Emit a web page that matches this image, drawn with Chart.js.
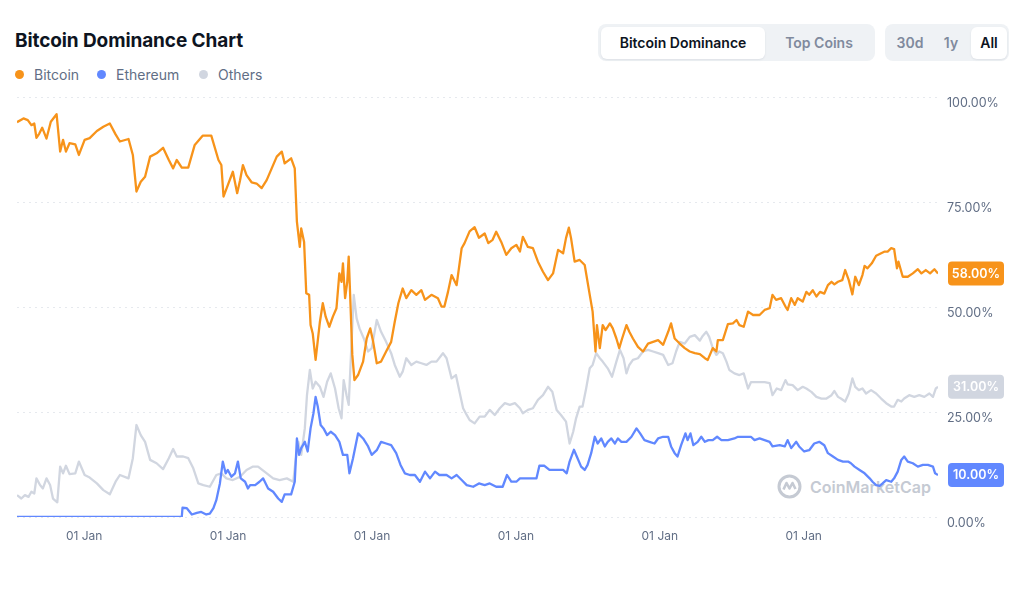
<!DOCTYPE html>
<html>
<head>
<meta charset="utf-8">
<title>Bitcoin Dominance Chart</title>
<script src="https://cdn.jsdelivr.net/npm/chart.js@4.4.1/dist/chart.umd.min.js"></script>
<style>
  body { margin: 0; background: #fff; font-family: Inter, "Noto Sans", sans-serif; }
  #wrap { position: relative; width: 1024px; height: 597px; overflow: hidden; }
  #chart { position: absolute; left: 0; top: 0; z-index: 2; }
  .title { position: absolute; left: 15px; top: 29px; font-size: 19px; font-weight: 700; color: #0d1421; letter-spacing: -0.1px; }
  .leg { position: absolute; top: 66px; font-size: 14px; color: #616e85; display: flex; align-items: center; }
  .leg i { display: inline-block; width: 9px; height: 9px; border-radius: 50%; margin-right: 10px; }
  .seg { position: absolute; top: 24px; height: 37px; background: #eff2f5; border-radius: 8px; }
  .btn { position: absolute; top: 2.5px; height: 32px; line-height: 32px; font-size: 14px; font-weight: 600; color: #808a9d; text-align: center; }
  .btn.on { background: #fff; border-radius: 6px; color: #0d1421; box-shadow: 0 1px 2px rgba(88,102,126,0.12); }
  .wm { position: absolute; left: 777px; top: 474px; display: flex; align-items: center; z-index: 1; color: #c5cad3; font-size: 16px; font-weight: 600; }
  .wm svg { margin-right: 8px; }
</style>
</head>
<body>
<div id="wrap">
  <div class="title">Bitcoin Dominance Chart</div>
  <div class="leg" style="left:15px"><i style="background:#f7931a"></i>Bitcoin</div>
  <div class="leg" style="left:97px"><i style="background:#6188ff"></i>Ethereum</div>
  <div class="leg" style="left:199px"><i style="background:#d1d6e0"></i>Others</div>

  <div class="seg" style="left:598px; width:277px">
    <div class="btn on" style="left:3px; width:164px">Bitcoin Dominance</div>
    <div class="btn" style="left:167px; width:108px">Top Coins</div>
  </div>
  <div class="seg" style="left:885px; width:124px">
    <div class="btn" style="left:4px; width:42px">30d</div>
    <div class="btn" style="left:46px; width:40px">1y</div>
    <div class="btn on" style="left:86px; width:36px">All</div>
  </div>

  <div class="wm">
    <svg width="25" height="25" viewBox="0 0 25 25">
      <circle cx="12.5" cy="12.5" r="10.5" fill="none" stroke="#c5cad3" stroke-width="3"/>
      <path d="M6.5 15.5 L9.5 9 L12.5 14.5 L15.5 9 L18.5 15" fill="none" stroke="#c5cad3" stroke-width="2.6" stroke-linejoin="round"/>
    </svg>
    <span>CoinMarketCap</span>
  </div>

  <canvas id="chart" width="1024" height="597"></canvas>
</div>

<script>
// dates are decimal years, values are market share in %
const btcDates = [2013.32, 2013.41, 2013.47, 2013.52, 2013.56, 2013.59, 2013.63, 2013.67, 2013.73, 2013.79,
  2013.87, 2013.92, 2013.96, 2014.00, 2014.05, 2014.13, 2014.18, 2014.26, 2014.33, 2014.43,
  2014.52, 2014.61, 2014.69, 2014.75, 2014.87, 2014.93, 2014.98, 2015.04, 2015.10, 2015.17,
  2015.26, 2015.35, 2015.43, 2015.49, 2015.54, 2015.61, 2015.70, 2015.79, 2015.90, 2016.02,
  2016.12, 2016.16, 2016.19, 2016.25, 2016.32, 2016.38, 2016.42, 2016.46, 2016.51, 2016.58,
  2016.65, 2016.72, 2016.79, 2016.86, 2016.93, 2017.00, 2017.04, 2017.13, 2017.18, 2017.21,
  2017.25, 2017.27, 2017.31, 2017.34, 2017.38, 2017.40, 2017.43, 2017.47, 2017.53, 2017.57,
  2017.61, 2017.66, 2017.71, 2017.76, 2017.80, 2017.83, 2017.85, 2017.88, 2017.91, 2017.93,
  2017.95, 2017.98, 2018.01, 2018.06, 2018.13, 2018.18, 2018.23, 2018.27, 2018.32, 2018.38,
  2018.45, 2018.52, 2018.57, 2018.62, 2018.68, 2018.73, 2018.80, 2018.87, 2018.94, 2018.99,
  2019.08, 2019.17, 2019.22, 2019.26, 2019.31, 2019.36, 2019.43, 2019.50, 2019.54, 2019.61,
  2019.68, 2019.74, 2019.82, 2019.87, 2019.93, 2019.98, 2020.05, 2020.12, 2020.19, 2020.26,
  2020.31, 2020.35, 2020.42, 2020.49, 2020.56, 2020.63, 2020.70, 2020.77, 2020.84, 2020.91,
  2020.95, 2020.99, 2021.02, 2021.07, 2021.14, 2021.21, 2021.28, 2021.32, 2021.36, 2021.38,
  2021.42, 2021.46, 2021.50, 2021.56, 2021.60, 2021.65, 2021.69, 2021.73, 2021.79, 2021.83,
  2021.88, 2021.95, 2022.02, 2022.09, 2022.16, 2022.23, 2022.30, 2022.37, 2022.41, 2022.46,
  2022.53, 2022.60, 2022.67, 2022.74, 2022.81, 2022.88, 2022.92, 2022.99, 2023.04, 2023.06,
  2023.13, 2023.20, 2023.27, 2023.32, 2023.36, 2023.42, 2023.48, 2023.55, 2023.64, 2023.71,
  2023.78, 2023.82, 2023.87, 2023.94, 2024.00, 2024.03, 2024.08, 2024.13, 2024.17, 2024.24,
  2024.29, 2024.33, 2024.38, 2024.43, 2024.48, 2024.54, 2024.59, 2024.64, 2024.68, 2024.73,
  2024.79, 2024.83, 2024.88, 2024.93, 2024.97, 2025.02, 2025.07, 2025.10, 2025.14, 2025.20,
  2025.26, 2025.33, 2025.38, 2025.42, 2025.47, 2025.51, 2025.55, 2025.57, 2025.63, 2025.70,
  2025.77, 2025.84, 2025.89, 2025.95, 2026.01, 2026.07, 2026.12];
const btcValues = [94.0, 94.9, 94.5, 93.3, 93.7, 90.3, 91.3, 92.7, 90.1, 94.1,
  95.9, 87.0, 89.8, 87.0, 89.0, 88.7, 86.2, 89.8, 90.2, 91.9,
  92.9, 93.7, 91.1, 89.4, 90.0, 86.2, 77.5, 79.8, 81.0, 85.8,
  86.6, 87.9, 85.0, 83.0, 85.0, 83.2, 83.2, 88.6, 90.8, 90.8,
  85.0, 83.8, 76.3, 79.0, 82.2, 77.1, 80.2, 83.8, 81.4, 79.7,
  79.4, 78.3, 80.2, 83.0, 85.8, 87.0, 84.2, 85.4, 83.0, 70.3,
  64.3, 68.7, 65.5, 53.3, 52.9, 45.7, 43.7, 37.4, 46.5, 50.9,
  47.7, 45.3, 47.7, 49.7, 58.0, 56.0, 60.4, 52.1, 56.0, 62.0,
  52.9, 38.6, 32.6, 33.8, 37.0, 42.5, 44.9, 41.7, 36.6, 37.0,
  39.4, 41.7, 46.5, 50.9, 54.4, 52.1, 54.0, 52.9, 54.0, 51.7,
  52.9, 52.1, 50.1, 50.1, 53.6, 57.6, 55.2, 64.0, 65.2, 68.0,
  69.0, 66.5, 67.5, 65.2, 66.0, 67.9, 65.5, 62.4, 64.0, 64.8,
  63.2, 66.7, 64.3, 64.0, 60.8, 58.4, 56.4, 58.0, 63.6, 62.8,
  66.4, 68.9, 66.4, 60.8, 61.2, 60.0, 52.9, 48.9, 39.4, 45.7,
  40.2, 45.7, 44.5, 46.1, 44.9, 42.5, 40.2, 42.5, 45.7, 44.1,
  42.5, 40.5, 39.4, 41.3, 41.7, 42.1, 41.0, 44.1, 46.1, 42.5,
  41.3, 40.2, 39.4, 39.0, 38.8, 37.8, 37.4, 40.2, 39.4, 42.1,
  42.1, 45.9, 46.1, 46.9, 45.7, 45.3, 48.9, 48.1, 48.1, 49.3,
  49.7, 52.9, 51.7, 52.1, 50.1, 49.3, 52.1, 50.5, 52.1, 51.3,
  53.6, 52.9, 54.0, 52.5, 53.6, 53.2, 55.2, 56.0, 55.4, 56.0,
  56.4, 58.8, 56.4, 53.0, 57.2, 55.2, 57.6, 59.8, 59.2, 60.4,
  62.2, 62.8, 63.2, 63.2, 64.0, 63.8, 59.2, 60.8, 57.2, 57.2,
  58.0, 59.0, 58.0, 58.8, 58.0, 59.0, 58.0];

const ethDates = [2013.32, 2015.61, 2015.62, 2015.68, 2015.75, 2015.82, 2015.88, 2015.95, 2016.00, 2016.05,
  2016.09, 2016.14, 2016.18, 2016.22, 2016.25, 2016.30, 2016.35, 2016.39, 2016.43, 2016.49,
  2016.53, 2016.56, 2016.63, 2016.69, 2016.74, 2016.81, 2016.88, 2016.95, 2017.00, 2017.04,
  2017.13, 2017.18, 2017.21, 2017.24, 2017.27, 2017.32, 2017.36, 2017.40, 2017.44, 2017.47,
  2017.50, 2017.54, 2017.58, 2017.63, 2017.68, 2017.74, 2017.80, 2017.85, 2017.91, 2017.94,
  2017.99, 2018.06, 2018.13, 2018.20, 2018.25, 2018.32, 2018.38, 2018.45, 2018.52, 2018.59,
  2018.65, 2018.71, 2018.78, 2018.85, 2018.92, 2018.99, 2019.06, 2019.13, 2019.19, 2019.29,
  2019.36, 2019.43, 2019.50, 2019.57, 2019.66, 2019.74, 2019.82, 2019.89, 2019.98, 2020.07,
  2020.13, 2020.19, 2020.26, 2020.31, 2020.38, 2020.47, 2020.54, 2020.58, 2020.65, 2020.72,
  2020.82, 2020.91, 2020.96, 2021.00, 2021.06, 2021.10, 2021.16, 2021.21, 2021.25, 2021.30,
  2021.35, 2021.39, 2021.44, 2021.49, 2021.53, 2021.58, 2021.63, 2021.67, 2021.72, 2021.79,
  2021.86, 2021.93, 2021.98, 2022.04, 2022.11, 2022.18, 2022.23, 2022.30, 2022.37, 2022.41,
  2022.46, 2022.50, 2022.55, 2022.61, 2022.64, 2022.68, 2022.72, 2022.78, 2022.83, 2022.88,
  2022.93, 2022.99, 2023.05, 2023.11, 2023.20, 2023.29, 2023.34, 2023.43, 2023.52, 2023.57,
  2023.64, 2023.71, 2023.78, 2023.82, 2023.92, 2023.99, 2024.03, 2024.08, 2024.15, 2024.19,
  2024.26, 2024.33, 2024.40, 2024.47, 2024.54, 2024.59, 2024.66, 2024.73, 2024.80, 2024.87,
  2024.91, 2024.96, 2025.03, 2025.10, 2025.17, 2025.21, 2025.26, 2025.31, 2025.35, 2025.40,
  2025.47, 2025.51, 2025.56, 2025.61, 2025.65, 2025.70, 2025.77, 2025.84, 2025.91, 2025.98,
  2026.05, 2026.08, 2026.12];
const ethValues = [0, 0, 2.2, 2.1, 0.6, 1.0, 1.2, 0.6, 0.8, 2.1,
  4.0, 8.0, 13.2, 10.4, 11.2, 9.6, 10.4, 13.2, 9.2, 8.4,
  6.8, 7.6, 7.6, 8.4, 9.2, 6.8, 6.0, 4.4, 3.6, 5.4,
  5.4, 8.4, 18.7, 14.8, 16.4, 17.9, 15.6, 21.1, 24.7, 28.6,
  26.3, 21.9, 21.1, 19.5, 20.3, 19.5, 17.9, 14.8, 14.8, 10.4,
  14.0, 19.9, 18.7, 16.8, 14.8, 15.9, 17.9, 17.5, 17.1, 15.2,
  12.4, 10.4, 10.0, 10.0, 8.4, 10.8, 9.2, 10.8, 10.0, 10.0,
  9.2, 10.0, 8.8, 7.6, 7.2, 8.0, 7.6, 8.0, 7.2, 7.2,
  10.0, 8.4, 8.4, 9.2, 9.2, 9.2, 9.2, 12.2, 12.2, 11.2,
  11.2, 11.2, 10.4, 13.2, 16.0, 14.4, 12.0, 11.2, 12.4, 15.2,
  19.1, 17.5, 18.7, 16.8, 17.9, 18.7, 17.5, 18.7, 17.9, 17.9,
  19.1, 21.1, 19.9, 18.3, 17.9, 17.5, 18.7, 19.1, 19.1, 16.8,
  15.2, 14.4, 17.1, 19.9, 18.3, 19.9, 17.1, 17.9, 19.1, 17.9,
  18.3, 18.3, 19.1, 18.3, 18.3, 18.7, 19.1, 19.1, 19.1, 18.3,
  18.7, 18.3, 17.9, 16.8, 17.1, 16.8, 18.3, 16.4, 17.9, 16.8,
  15.6, 15.9, 17.5, 17.9, 17.1, 15.2, 14.4, 13.6, 13.2, 13.2,
  12.8, 12.0, 11.2, 10.4, 9.2, 8.4, 7.6, 7.4, 8.0, 8.8,
  8.4, 9.2, 10.8, 13.6, 14.4, 13.2, 12.8, 12.0, 12.4, 12.4,
  12.0, 10.4, 10.0];

const othersDates = [2013.32, 2013.38, 2013.43, 2013.48, 2013.52, 2013.56, 2013.59, 2013.64, 2013.68, 2013.73,
  2013.78, 2013.82, 2013.88, 2013.92, 2013.96, 2014.00, 2014.05, 2014.13, 2014.18, 2014.26,
  2014.33, 2014.43, 2014.52, 2014.61, 2014.69, 2014.75, 2014.87, 2014.93, 2014.98, 2015.04,
  2015.10, 2015.17, 2015.26, 2015.35, 2015.43, 2015.49, 2015.54, 2015.63, 2015.70, 2015.77,
  2015.84, 2015.91, 2016.00, 2016.09, 2016.16, 2016.23, 2016.32, 2016.42, 2016.51, 2016.60,
  2016.67, 2016.76, 2016.88, 2016.97, 2017.07, 2017.16, 2017.19, 2017.23, 2017.27, 2017.32,
  2017.35, 2017.39, 2017.43, 2017.47, 2017.53, 2017.58, 2017.63, 2017.68, 2017.74, 2017.79,
  2017.83, 2017.86, 2017.90, 2017.93, 2017.97, 2018.00, 2018.04, 2018.08, 2018.14, 2018.20,
  2018.25, 2018.32, 2018.38, 2018.45, 2018.52, 2018.57, 2018.64, 2018.68, 2018.73, 2018.80,
  2018.87, 2018.94, 2019.01, 2019.08, 2019.15, 2019.24, 2019.29, 2019.36, 2019.42, 2019.47,
  2019.52, 2019.57, 2019.61, 2019.68, 2019.75, 2019.82, 2019.89, 2019.96, 2020.03, 2020.10,
  2020.17, 2020.24, 2020.31, 2020.35, 2020.42, 2020.49, 2020.56, 2020.63, 2020.70, 2020.76,
  2020.82, 2020.88, 2020.95, 2021.00, 2021.05, 2021.09, 2021.14, 2021.18, 2021.23, 2021.28,
  2021.32, 2021.37, 2021.42, 2021.46, 2021.53, 2021.59, 2021.65, 2021.70, 2021.75, 2021.79,
  2021.83, 2021.88, 2021.95, 2022.02, 2022.09, 2022.16, 2022.23, 2022.30, 2022.37, 2022.43,
  2022.48, 2022.53, 2022.60, 2022.67, 2022.74, 2022.81, 2022.85, 2022.90, 2022.94, 2022.99,
  2023.04, 2023.08, 2023.13, 2023.18, 2023.22, 2023.29, 2023.36, 2023.42, 2023.48, 2023.52,
  2023.62, 2023.71, 2023.78, 2023.82, 2023.88, 2023.94, 2024.00, 2024.03, 2024.10, 2024.17,
  2024.24, 2024.29, 2024.36, 2024.43, 2024.50, 2024.57, 2024.64, 2024.68, 2024.73, 2024.77,
  2024.83, 2024.88, 2024.93, 2024.97, 2025.02, 2025.07, 2025.12, 2025.19, 2025.26, 2025.33,
  2025.40, 2025.47, 2025.51, 2025.56, 2025.61, 2025.65, 2025.72, 2025.79, 2025.86, 2025.93,
  2026.00, 2026.05, 2026.09, 2026.12];
const othersValues = [5.2, 4.4, 5.2, 4.8, 6.0, 5.6, 9.2, 7.6, 6.8, 9.2,
  7.6, 4.4, 3.5, 12.0, 10.4, 12.2, 10.2, 10.4, 13.2, 10.0,
  9.4, 8.0, 6.4, 5.4, 8.4, 10.0, 9.2, 14.0, 21.9, 19.5,
  17.9, 13.6, 12.8, 11.4, 14.0, 16.2, 14.4, 14.4, 14.0, 11.6,
  8.0, 7.6, 7.2, 10.0, 10.4, 9.2, 8.8, 9.6, 11.2, 12.0,
  12.0, 10.8, 9.2, 8.8, 9.2, 8.4, 13.2, 17.9, 14.8, 21.1,
  29.0, 35.0, 30.6, 32.2, 31.0, 28.6, 32.2, 34.2, 30.6, 25.9,
  23.5, 32.6, 29.0, 26.7, 41.7, 52.9, 47.3, 44.9, 42.5, 39.4,
  40.2, 46.9, 44.1, 41.7, 39.0, 36.2, 33.4, 34.6, 37.8, 36.2,
  37.0, 36.6, 36.2, 37.0, 37.0, 39.0, 37.8, 33.0, 33.8, 29.8,
  25.9, 24.3, 23.1, 22.3, 23.9, 23.9, 25.5, 24.3, 25.9, 27.1,
  26.7, 27.1, 25.9, 24.7, 25.5, 25.9, 27.9, 29.0, 31.0, 29.8,
  25.5, 24.3, 22.7, 17.5, 20.3, 23.5, 26.3, 26.3, 30.6, 35.4,
  36.2, 39.0, 37.8, 37.0, 35.4, 33.4, 37.0, 39.8, 37.8, 34.2,
  36.2, 37.4, 37.8, 39.4, 39.8, 39.4, 39.0, 38.6, 36.2, 36.6,
  39.4, 41.7, 41.3, 42.9, 43.3, 42.0, 43.1, 44.1, 42.9, 40.2,
  38.6, 39.4, 39.0, 37.0, 35.0, 34.2, 33.8, 34.2, 30.6, 32.1,
  32.1, 32.1, 31.9, 29.0, 30.6, 30.2, 32.6, 31.6, 31.4, 30.2,
  31.0, 30.6, 29.8, 28.6, 28.2, 28.2, 29.0, 30.0, 28.6, 28.2,
  27.5, 29.4, 33.0, 31.0, 30.2, 30.6, 29.4, 30.2, 29.4, 28.2,
  27.1, 26.3, 26.3, 27.9, 27.5, 28.2, 29.0, 28.6, 29.0, 28.6,
  29.4, 28.6, 30.6, 31.0];

const seriesNames = ['Bitcoin', 'Ethereum', 'Others'];
const seriesColors = ['#f7931a', '#6188ff', '#d1d6e0'];
const xTickYears = [2014, 2016, 2018, 2020, 2022, 2024];
const xTickLabel = '01 Jan';
const yTicks = [0, 25, 50, 75, 100];

const toPoints = (dates, values) => dates.map((d, i) => ({ x: d, y: values[i] }));

// coloured box with the latest value, right of the plot
const lastValueTags = {
  id: 'lastValueTags',
  afterDraw(chart) {
    const ctx = chart.ctx;
    const yScale = chart.scales.y;
    chart.data.datasets.forEach((ds) => {
      const last = ds.data[ds.data.length - 1].y;
      const py = yScale.getPixelForValue(last);
      const w = 56, h = 24, x = chart.chartArea.right + 10;
      ctx.save();
      ctx.fillStyle = ds.borderColor;
      ctx.beginPath();
      ctx.roundRect(x, py - h / 2, w, h, 4);
      ctx.fill();
      ctx.fillStyle = '#fff';
      ctx.font = '600 12.5px Inter';
      ctx.textAlign = 'center';
      ctx.textBaseline = 'middle';
      ctx.fillText(last.toFixed(2) + '%', x + w / 2, py + 0.5);
      ctx.restore();
    });
  }
};

Chart.defaults.font.family = 'Inter';

const ctx = document.getElementById('chart').getContext('2d');
const chart = new Chart(ctx, {
  type: 'line',
  data: {
    datasets: [
      { label: seriesNames[0], data: toPoints(btcDates, btcValues), borderColor: seriesColors[0] },
      { label: seriesNames[1], data: toPoints(ethDates, ethValues), borderColor: seriesColors[1] },
      { label: seriesNames[2], data: toPoints(othersDates, othersValues), borderColor: seriesColors[2] }
    ]
  },
  options: {
    responsive: false,
    animation: false,
    layout: { padding: { left: 17, right: 0, top: 97, bottom: 50 } },
    elements: {
      line: { borderWidth: 2.3, tension: 0, borderJoinStyle: 'round' },
      point: { radius: 0 }
    },
    plugins: {
      legend: { display: false },
      tooltip: { enabled: false }
    },
    scales: {
      x: {
        type: 'linear',
        min: btcDates[0],
        max: btcDates[btcDates.length - 1],
        grid: { display: false },
        border: { display: false },
        afterBuildTicks: (scale) => { scale.ticks = xTickYears.map((v) => ({ value: v })); },
        afterFit: (scale) => { scale.height = 30; },
        ticks: {
          autoSkip: false,
          maxRotation: 0,
          align: 'start',
          padding: 4,
          color: '#616e85',
          font: { size: 12 },
          callback: () => xTickLabel
        }
      },
      y: {
        position: 'right',
        min: 0,
        max: 100,
        afterBuildTicks: (scale) => { scale.ticks = yTicks.map((v) => ({ value: v })); },
        afterFit: (scale) => { scale.width = 86; },
        grid: { color: '#e6e9ee', drawTicks: false },
        border: { display: false, dash: [2, 4] },
        ticks: {
          padding: 9,
          labelOffset: 6,
          color: '#616e85',
          font: { size: 12.5 },
          callback: (v) => v.toFixed(2) + '%'
        }
      }
    }
  },
  plugins: [lastValueTags]
});
</script>
</body>
</html>
